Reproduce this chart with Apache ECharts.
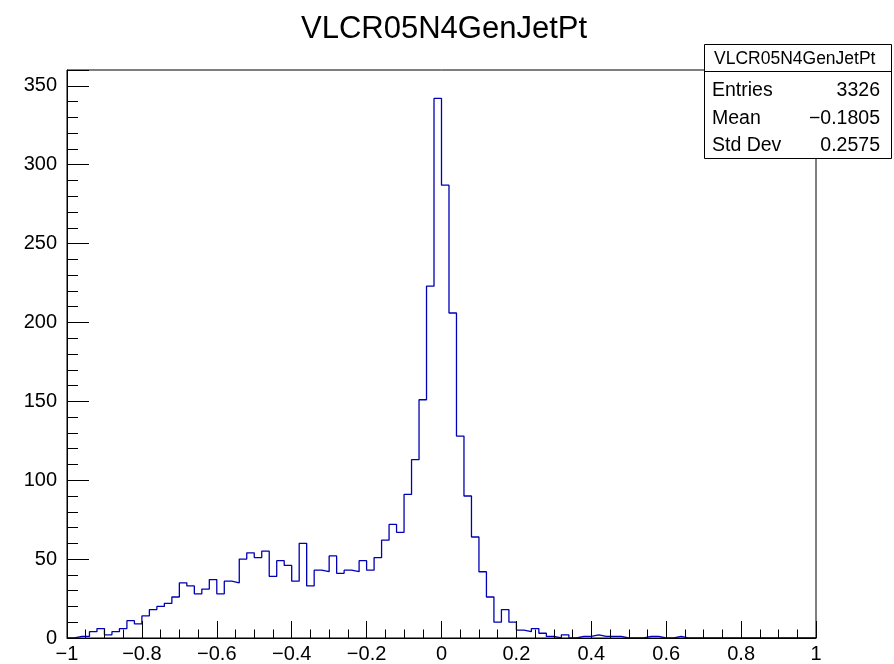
<!DOCTYPE html>
<html>
<head>
<meta charset="utf-8">
<script src="https://cdn.jsdelivr.net/npm/echarts@6/dist/echarts.min.js"></script>
<style>
  html, body { margin: 0; padding: 0; background: #fff; }
  #chart { width: 894px; height: 664px; }
</style>
</head>
<body>
<div id="chart"></div>
<script>
// histogram binning
const xMin = -1
const xMax = 1
const binWidth = 0.02
const yMax = 360

// bin contents (100 bins, -1 .. 1)
const counts = [
  0, 1, 1, 4, 6, 2, 4, 6, 11, 9,
  14, 18, 20, 22, 26, 35, 33, 28, 31, 37,
  28, 36, 35, 50, 54, 51, 55, 39, 49, 46,
  36, 60, 33, 43, 42, 52, 41, 43, 42, 49,
  43, 51, 62, 72, 67, 91, 113, 151, 223, 342,
  287, 206, 128, 90, 64, 42, 26, 10, 18, 10,
  5, 4, 6, 3, 1, 0, 2, 0, 1, 1,
  2, 1, 1, 1, 0, 0, 0, 1, 1, 0,
  0, 1, 0, 0, 0, 0, 0, 0, 0, 0,
  0, 0, 0, 0, 0, 0, 0, 0, 0, 0
]

// stats box
const histName = 'VLCR05N4GenJetPt'
const statLabels = ['Entries', 'Mean', 'Std Dev']
const statValues = ['3326', '\u22120.1805', '0.2575']

const font = 'Liberation Sans, Arial, Helvetica, sans-serif'

// step outline: left edge of each bin, plus closing point at xMax
const stepData = counts.map((c, i) => [xMin + i * binWidth, c])
stepData.push([xMax, counts[counts.length - 1]])

function fmtX(v) {
  const s = String(Math.round(v * 10) / 10)
  return s.replace('-', '\u2212')
}

const chart = echarts.init(document.getElementById('chart'), null, { renderer: 'canvas' })

const statRows = []
statLabels.forEach((lab, i) => {
  const y = 92 + i * 27.5
  statRows.push({
    type: 'text', left: 712, top: y - 11, z: 11,
    style: { text: lab, font: '19.5px ' + font, fill: '#000' }
  })
  statRows.push({
    type: 'text', right: 14, top: y - 11, z: 11,
    style: { text: statValues[i], font: '19.5px ' + font, fill: '#000', textAlign: 'right' }
  })
})

const option = {
  animation: false,
  backgroundColor: '#fff',
  title: {
    text: histName,
    left: 296,
    top: 9,
    textStyle: { fontFamily: font, fontSize: 31, fontWeight: 'normal', color: '#000' }
  },
  grid: {
    left: 67, top: 70, width: 749, height: 568,
    show: true, borderColor: '#000', borderWidth: 1
  },
  xAxis: [
    {
      type: 'value', min: xMin, max: xMax, interval: 0.2, position: 'bottom', z: 3,
      axisLine: { show: true, onZero: false, lineStyle: { color: '#000', width: 1 } },
      axisTick: { show: true, inside: true, length: 17, lineStyle: { color: '#000' } },
      axisLabel: {
        show: true, margin: 6, fontSize: 20, fontFamily: font, color: '#000',
        showMinLabel: true, showMaxLabel: true, formatter: fmtX
      },
      splitLine: { show: false }
    },
    {
      type: 'value', min: xMin, max: xMax, interval: 0.05, position: 'bottom', z: 3,
      axisLine: { show: false, onZero: false },
      axisTick: { show: true, inside: true, length: 8.5, lineStyle: { color: '#000' } },
      axisLabel: { show: false },
      splitLine: { show: false }
    }
  ],
  yAxis: [
    {
      type: 'value', min: 0, max: yMax, interval: 50, position: 'left', z: 3,
      axisLine: { show: true, onZero: false, lineStyle: { color: '#000', width: 1 } },
      axisTick: { show: true, inside: true, length: 22, lineStyle: { color: '#000' } },
      axisLabel: {
        show: true, margin: 10, fontSize: 20, fontFamily: font, color: '#000',
        formatter: v => (v % 50 === 0 && v <= 350 ? String(v) : '')
      },
      splitLine: { show: false }
    },
    {
      type: 'value', min: 0, max: yMax, interval: 10, position: 'left', z: 3,
      axisLine: { show: false, onZero: false },
      axisTick: { show: true, inside: true, length: 11, lineStyle: { color: '#000' } },
      axisLabel: { show: false },
      splitLine: { show: false }
    }
  ],
  series: [
    {
      type: 'line',
      xAxisIndex: 0,
      yAxisIndex: 0,
      step: 'end',
      data: stepData,
      showSymbol: false,
      symbol: 'none',
      lineStyle: { color: '#0000b4', width: 1.3 },
      z: 2
    }
  ],
  graphic: [
    {
      type: 'rect', left: 704, top: 44, z: 10,
      shape: { width: 187, height: 114 },
      style: { fill: '#fff', stroke: '#000', lineWidth: 1 }
    },
    {
      type: 'line', z: 11,
      shape: { x1: 704, y1: 71.5, x2: 891, y2: 71.5 },
      style: { stroke: '#000', lineWidth: 1 }
    },
    {
      type: 'text', z: 11, left: 714, top: 50,
      style: { text: histName, font: '17.5px ' + font, fill: '#000' }
    }
  ].concat(statRows)
}

chart.setOption(option)
</script>
</body>
</html>
